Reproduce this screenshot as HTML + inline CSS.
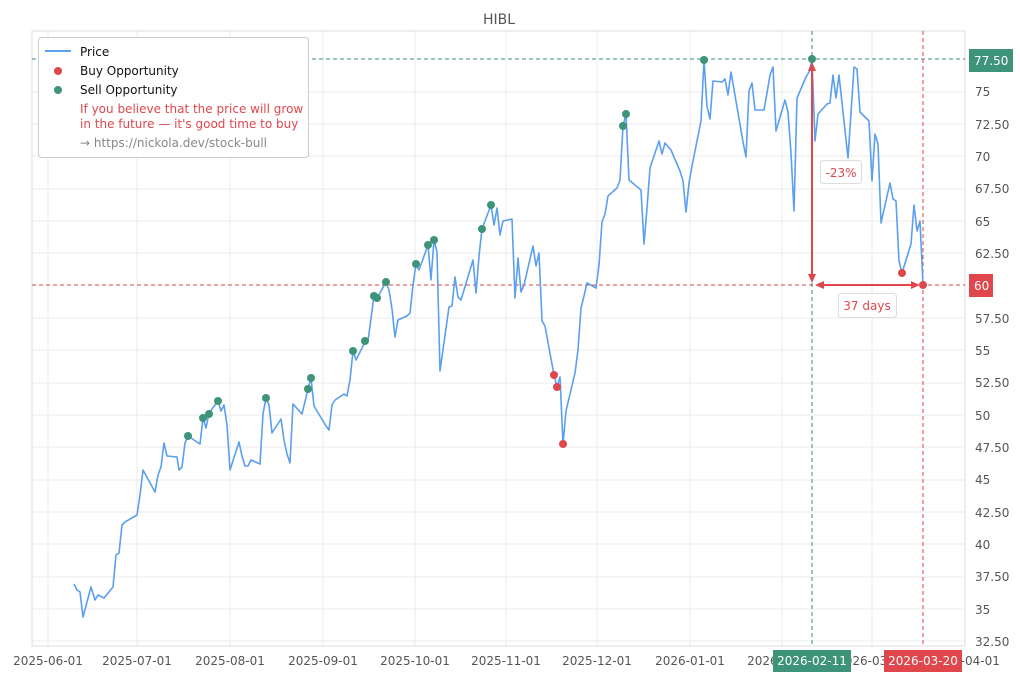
<!DOCTYPE html>
<html><head><meta charset="utf-8"><style>
body{margin:0;background:#fff;}
svg{display:block;font-family:"DejaVu Sans","Liberation Sans",sans-serif;}
</style></head><body>
<svg width="1020" height="680" viewBox="0 0 1020 680" xmlns="http://www.w3.org/2000/svg">
<rect width="1020" height="680" fill="#fff"/>
<text x="499" y="24" font-size="14" fill="#555" text-anchor="middle">HIBL</text>
<g stroke="#ebebeb" stroke-width="1">
<line x1="32" y1="641" x2="965" y2="641"/><line x1="32" y1="609" x2="965" y2="609"/><line x1="32" y1="577" x2="965" y2="577"/><line x1="32" y1="544" x2="965" y2="544"/><line x1="32" y1="512" x2="965" y2="512"/><line x1="32" y1="480" x2="965" y2="480"/><line x1="32" y1="447" x2="965" y2="447"/><line x1="32" y1="415" x2="965" y2="415"/><line x1="32" y1="383" x2="965" y2="383"/><line x1="32" y1="350" x2="965" y2="350"/><line x1="32" y1="318" x2="965" y2="318"/><line x1="32" y1="253" x2="965" y2="253"/><line x1="32" y1="221" x2="965" y2="221"/><line x1="32" y1="189" x2="965" y2="189"/><line x1="32" y1="156" x2="965" y2="156"/><line x1="32" y1="124" x2="965" y2="124"/><line x1="32" y1="92" x2="965" y2="92"/>
<line x1="48" y1="31" x2="48" y2="646"/><line x1="137" y1="31" x2="137" y2="646"/><line x1="230" y1="31" x2="230" y2="646"/><line x1="323" y1="31" x2="323" y2="646"/><line x1="415" y1="31" x2="415" y2="646"/><line x1="506" y1="31" x2="506" y2="646"/><line x1="597" y1="31" x2="597" y2="646"/><line x1="690" y1="31" x2="690" y2="646"/><line x1="782" y1="31" x2="782" y2="646"/><line x1="872" y1="31" x2="872" y2="646"/>
</g>
<rect x="32" y="31" width="933" height="615" fill="none" stroke="#ddd"/>
<line x1="32" y1="59" x2="965" y2="59" stroke="#3d8f78" stroke-dasharray="4,3"/>
<line x1="32" y1="285" x2="965" y2="285" stroke="#d94545" stroke-dasharray="4,3"/>
<line x1="812" y1="31" x2="812" y2="646" stroke="#3d8f78" stroke-dasharray="4,3"/>
<line x1="923" y1="31" x2="923" y2="646" stroke="#d94545" stroke-dasharray="4,3"/>
<polyline fill="none" stroke="#5b9ff0" stroke-width="1.6" stroke-linejoin="round" points="74,584 77,590 80,592 83,617 91,587 95,600 98,595 104,598 113,587 116,555 119,553 122,525 125,522 137,515 140,495 143,470 155,492 158,475 161,467 164,443 167,456 177,457 179,470 182,467 185,443 188,436 200,444 203,418 206,428 209,413 218,401 221,411 224,405 227,425 230,470 239,442 242,456 245,466 248,466 251,460 260,464 263,414 266,398 269,405 272,433 281,419 284,440 287,454 290,463 293,404 302,414 308,389 311,378 314,406 326,426 329,430 332,405 335,400 344,394 347,396 350,380 353,351 356,360 365,342 368,341 374,296 377,298 380,293 386,282 389,290 392,309 395,337 398,320 407,316 410,313 413,285 416,264 419,270 428,245 431,280 434,240 437,252 440,371 449,307 452,306 455,277 458,297 461,300 470,270 473,260 476,293 479,256 482,229 491,205 494,225 497,208 500,235 503,221 512,219 515,298 518,258 521,292 524,285 533,246 536,266 539,253 542,321 545,326 554,375 557,387 560,377 563,444 566,411 575,373 578,350 581,308 584,296 587,283 596,288 599,265 602,222 605,214 608,196 617,188 620,180 623,126 626,114 629,180 641,190 644,244 647,208 650,168 659,141 662,154 665,143 671,150 680,171 683,181 686,212 689,183 692,166 701,121 704,60 707,106 710,119 713,81 722,82 725,79 728,95 731,72 743,142 746,157 749,91 752,83 755,110 764,110 767,93 770,75 773,67 776,131 785,100 788,112 791,153 794,211 797,98 806,77 809,72 812,60 815,141 818,114 827,104 830,103 833,75 836,98 839,75 848,158 851,113 854,67 857,69 860,112 869,121 872,181 875,134 878,144 881,223 890,183 893,199 896,201 899,261 902,273 911,244 914,205 917,231 920,221 923,285"/>
<g fill="#3d9479">
<circle cx="188" cy="436" r="4"/><circle cx="203" cy="418" r="4"/><circle cx="209" cy="414" r="4"/><circle cx="218" cy="401" r="4"/><circle cx="266" cy="398" r="4"/><circle cx="308" cy="389" r="4"/><circle cx="311" cy="378" r="4"/><circle cx="353" cy="351" r="4"/><circle cx="365" cy="341" r="4"/><circle cx="374" cy="296" r="4"/><circle cx="377" cy="298" r="4"/><circle cx="386" cy="282" r="4"/><circle cx="416" cy="264" r="4"/><circle cx="428" cy="245" r="4"/><circle cx="434" cy="240" r="4"/><circle cx="482" cy="229" r="4"/><circle cx="491" cy="205" r="4"/><circle cx="623" cy="126" r="4"/><circle cx="626" cy="114" r="4"/><circle cx="704" cy="60" r="4"/><circle cx="812" cy="59" r="4"/>
</g>
<g fill="#e0474c">
<circle cx="554" cy="375" r="4"/><circle cx="557" cy="387" r="4"/><circle cx="563" cy="444" r="4"/><circle cx="902" cy="273" r="4"/><circle cx="923" cy="285" r="4"/>
</g>
<g stroke="#e0474c" stroke-width="2" fill="#e0474c">
<line x1="812" y1="68" x2="812" y2="276"/>
<polygon points="812,62 808,71 816,71" stroke="none"/>
<polygon points="812,283 808,274 816,274" stroke="none"/>
<line x1="822" y1="285" x2="913" y2="285"/>
<polygon points="815,285 824,281 824,289" stroke="none"/>
<polygon points="920,285 911,281 911,289" stroke="none"/>
</g>
<rect x="820.5" y="160.5" width="41" height="23" rx="3" fill="#fff" stroke="#ddd"/>
<text x="841" y="177" font-size="12" fill="#e0474c" text-anchor="middle">-23%</text>
<rect x="838.5" y="293.5" width="58" height="24" rx="3" fill="#fff" stroke="#ddd"/>
<text x="867" y="310" font-size="12" fill="#e0474c" text-anchor="middle">37 days</text>
<g font-size="12" fill="#555">
<text x="975" y="96">75</text><text x="975" y="129">72.50</text><text x="975" y="161">70</text><text x="975" y="193">67.50</text><text x="975" y="226">65</text><text x="975" y="258">62.50</text><text x="975" y="323">57.50</text><text x="975" y="355">55</text><text x="975" y="387">52.50</text><text x="975" y="420">50</text><text x="975" y="452">47.50</text><text x="975" y="484">45</text><text x="975" y="517">42.50</text><text x="975" y="549">40</text><text x="975" y="581">37.50</text><text x="975" y="614">35</text><text x="975" y="646">32.50</text>
</g>
<rect x="969" y="49" width="44" height="23" fill="#3d9479"/>
<text x="974" y="65" font-size="12" fill="#fff">77.50</text>
<rect x="969" y="274" width="24" height="23" fill="#e0474c"/>
<text x="974" y="290" font-size="12" fill="#fff">60</text>
<g font-size="12" fill="#555" text-anchor="middle">
<text x="48" y="665">2025-06-01</text><text x="137" y="665">2025-07-01</text><text x="230" y="665">2025-08-01</text><text x="323" y="665">2025-09-01</text><text x="415" y="665">2025-10-01</text><text x="506" y="665">2025-11-01</text><text x="597" y="665">2025-12-01</text><text x="690" y="665">2026-01-01</text><text x="782" y="665">2026-02-01</text><text x="872" y="665">2026-03-01</text><text x="965" y="665">2026-04-01</text>
</g>
<rect x="773" y="650" width="78" height="22" fill="#3d9479"/>
<text x="812" y="665" font-size="12" fill="#fff" text-anchor="middle">2026-02-11</text>
<rect x="884" y="650" width="78" height="22" fill="#e0474c"/>
<text x="923" y="665" font-size="12" fill="#fff" text-anchor="middle">2026-03-20</text>
<rect x="38.5" y="37.5" width="270" height="120" rx="3" fill="#fff" stroke="#ccc"/>
<line x1="45" y1="51" x2="71" y2="51" stroke="#5b9ff0" stroke-width="2"/>
<circle cx="58" cy="71" r="4" fill="#e0474c"/>
<circle cx="58" cy="90" r="4" fill="#3d9479"/>
<g font-size="12">
<text x="80" y="56" fill="#111">Price</text>
<text x="80" y="75" fill="#111">Buy Opportunity</text>
<text x="80" y="94" fill="#111">Sell Opportunity</text>
<text x="80" y="113" fill="#e0474c">If you believe that the price will grow</text>
<text x="80" y="128" fill="#e0474c">in the future — it's good time to buy</text>
<text x="80" y="147" fill="#888">→ https://nickola.dev/stock-bull</text>
</g>
</svg>
</body></html>
